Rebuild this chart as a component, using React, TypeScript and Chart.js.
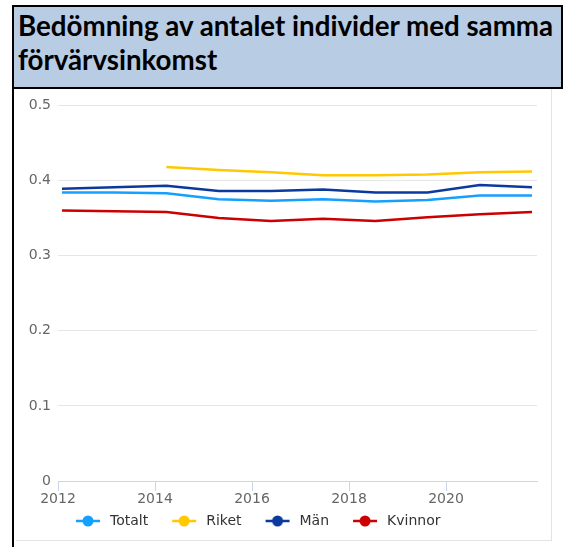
import React, { useEffect, useRef } from 'react';
import { Chart, registerables } from 'chart.js';

Chart.register(...registerables);

const years = [2012, 2013, 2014, 2015, 2016, 2017, 2018, 2019, 2020, 2021];
const totalt = [0.384, 0.384, 0.383, 0.375, 0.373, 0.375, 0.372, 0.374, 0.380, 0.380];
const riket = [null, null, 0.418, 0.414, 0.411, 0.407, 0.407, 0.408, 0.411, 0.412];
const man = [0.389, 0.391, 0.393, 0.386, 0.386, 0.388, 0.384, 0.384, 0.394, 0.391];
const kvinnor = [0.360, 0.359, 0.358, 0.350, 0.346, 0.349, 0.346, 0.351, 0.355, 0.358];
const seriesNames = ['Totalt', 'Riket', 'Män', 'Kvinnor'];
const seriesColors = ['#14a0ff', '#ffc800', '#0b3a9e', '#cc0000'];
const yTickValues = [0, 0.1, 0.2, 0.3, 0.4, 0.5];
const xTickYears = [2012, 2014, 2016, 2018, 2020];
const titleLines = ['Bedömning av antalet individer med samma', 'förvärvsinkomst'];

const FONT = '"DejaVu Sans", sans-serif';

function legendSymbol(color: string): HTMLCanvasElement {
  const c = document.createElement('canvas');
  c.width = 41;
  c.height = 14;
  const g = c.getContext('2d')!;
  g.strokeStyle = color;
  g.lineWidth = 2.5;
  g.beginPath();
  g.moveTo(14, 7);
  g.lineTo(38, 7);
  g.stroke();
  g.fillStyle = color;
  g.beginPath();
  g.arc(26, 7, 5.5, 0, Math.PI * 2);
  g.fill();
  return c;
}

const legendShift = {
  id: 'legendShift',
  afterLayout(chart: any) {
    if (chart.legend) {
      chart.legend.left = 35;
    }
  },
};

function ChartView() {
  const ref = useRef<HTMLCanvasElement | null>(null);
  useEffect(() => {
    if (!ref.current) return;
    const values = [totalt, riket, man, kvinnor];
    const datasets = seriesNames.map((name, i) => ({
      label: name,
      data: years.map((yr, j) => ({ x: yr, y: values[i][j] })),
      borderColor: seriesColors[i],
      backgroundColor: seriesColors[i],
      borderWidth: 2.5,
      pointRadius: 0,
      pointHoverRadius: 0,
      tension: 0,
      fill: false,
      xAxisID: 'x',
      yAxisID: 'y',
      pointStyle: legendSymbol(seriesColors[i]),
    }));
    const chart = new Chart(ref.current, {
      type: 'line',
      data: { datasets: datasets as any },
      plugins: [legendShift],
      options: {
        animation: false,
        responsive: false,
        maintainAspectRatio: false,
        layout: { padding: { left: 0, right: 14, top: 15, bottom: 2 } },
        plugins: {
          tooltip: { enabled: false },
          legend: {
            position: 'bottom',
            align: 'start',
            labels: {
              usePointStyle: true,
              pointStyleWidth: 41,
              padding: 10,
              color: '#333333',
              font: { family: FONT, size: 14 },
            },
          },
        },
        scales: {
          x: {
            type: 'linear',
            display: false,
            min: 2011.9234,
            max: 2021.0957,
          },
          x2: {
            type: 'linear',
            axis: 'x',
            position: 'bottom',
            min: 2012,
            max: 2021.876,
            afterBuildTicks: (s: any) => {
              s.ticks = xTickYears.map((v) => ({ value: v }));
            },
            afterFit: (s: any) => {
              s.height = 23;
            },
            grid: {
              display: true,
              drawOnChartArea: false,
              drawTicks: true,
              tickLength: 10,
              color: '#ccd6eb',
            },
            border: { display: true, color: '#ccd6eb', width: 1 },
            ticks: {
              autoSkip: false,
              maxRotation: 0,
              padding: 0,
              color: '#666666',
              font: { family: FONT, size: 14 },
              callback: (v: any) => String(v),
            },
          },
          y: {
            type: 'linear',
            min: 0,
            max: 0.5,
            afterBuildTicks: (s: any) => {
              s.ticks = yTickValues.map((v) => ({ value: v }));
            },
            afterFit: (s: any) => {
              s.width = 41;
            },
            grid: {
              color: (c: any) => (c.tick && c.tick.value === 0 ? 'rgba(0,0,0,0)' : '#e6e6e6'),
              drawTicks: false,
            },
            border: { display: false },
            ticks: {
              padding: 7,
              color: '#666666',
              font: { family: FONT, size: 14 },
              callback: (v: any) => (v === 0 ? '0' : Number(v).toFixed(1)),
            },
          },
        },
      },
    });
    return () => chart.destroy();
  }, []);
  return (
    <canvas
      ref={ref}
      width={534}
      height={450}
      style={{ position: 'absolute', left: 17, top: 90, width: 534, height: 450 }}
    />
  );
}

export default function App() {
  return (
    <div
      style={{
        position: 'fixed',
        left: 0,
        top: 0,
        width: 563,
        height: 547,
        background: '#ffffff',
        overflow: 'hidden',
      }}
    >
      <div
        style={{
          position: 'absolute',
          left: 12,
          top: 5,
          width: 551,
          height: 84,
          boxSizing: 'border-box',
          background: '#b8cce4',
          borderTop: '2px solid #000',
          borderLeft: '2px solid #000',
          borderRight: '2px solid #000',
          borderBottom: '2px solid #000',
        }}
      />
      <div
        style={{
          position: 'absolute',
          left: 18,
          top: 9,
          fontFamily: 'Lato, sans-serif',
          fontWeight: 700,
          fontSize: 27.7,
          lineHeight: '34px',
          color: '#000',
          whiteSpace: 'nowrap',
        }}
      >
        {titleLines.map((t, i) => (
          <div key={i}>{t}</div>
        ))}
      </div>
      <div style={{ position: 'absolute', left: 12, top: 5, width: 2, height: 542, background: '#000' }} />
      <div
        style={{
          position: 'absolute',
          left: 16,
          top: 89,
          width: 536,
          height: 452,
          boxSizing: 'border-box',
          borderRight: '1px solid #e3e3e3',
          borderBottom: '1px solid #e3e3e3',
        }}
      />
      <ChartView />
    </div>
  );
}
